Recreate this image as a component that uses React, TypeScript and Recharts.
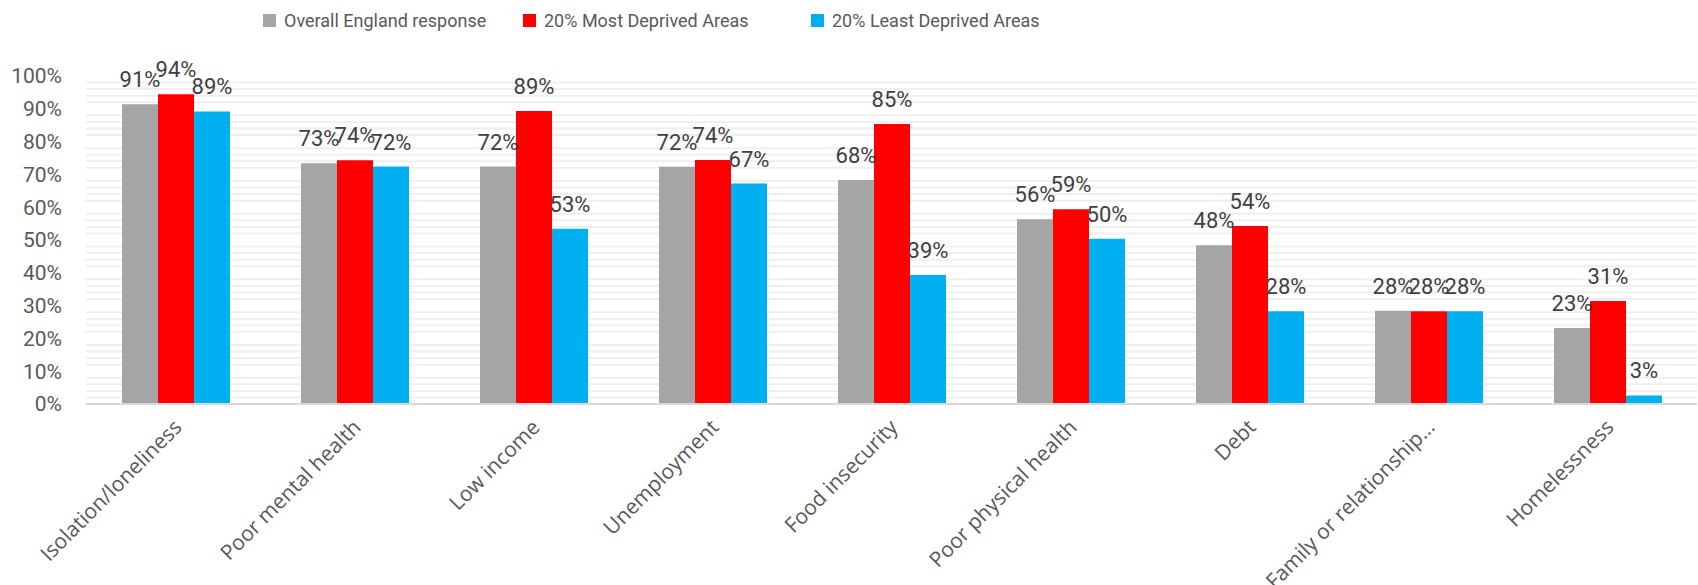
import { BarChart, Bar, XAxis, YAxis, CartesianGrid, Legend, LabelList } from 'recharts';

const categories = [
  'Isolation/loneliness',
  'Poor mental health',
  'Low income',
  'Unemployment',
  'Food insecurity',
  'Poor physical health',
  'Debt',
  'Family or relationship…',
  'Homelessness',
];
const overallEngland = [91.4, 73.4, 72.4, 72.3, 68.3, 56.3, 48.4, 28.4, 23.2];
const mostDeprived = [94.4, 74.3, 89.3, 74.4, 85.4, 59.4, 54.3, 28.3, 31.4];
const leastDeprived = [89.2, 72.4, 53.4, 67.2, 39.3, 50.4, 28.3, 28.3, 2.6];
const yTicks = [0, 10, 20, 30, 40, 50, 60, 70, 80, 90, 100];

const seriesNames = ['Overall England response', '20% Most Deprived Areas', '20% Least Deprived Areas'];
const colors = ['#A5A5A5', '#FF0000', '#00B0F0'];

const data = categories.map((name, i) => ({
  name,
  overall: overallEngland[i],
  most: mostDeprived[i],
  least: leastDeprived[i],
}));

// minor gridlines every 2%, none on the major ticks
const minorGrid = yTicks.slice(0, -1).flatMap(t => [t + 2, t + 4, t + 6, t + 8]);

const legendWidths = [260, 288, 240];

const renderLegend = () => (
  <div style={{ display: 'flex', alignItems: 'center', height: 24 }}>
    {seriesNames.map((name, i) => (
      <div key={name} style={{ width: legendWidths[i], display: 'flex', alignItems: 'center' }}>
        <span style={{ width: 13, height: 13, background: colors[i], marginRight: 8, display: 'inline-block' }} />
        <span style={{ fontFamily: 'Roboto', fontSize: 18, color: '#595959', whiteSpace: 'nowrap' }}>{name}</span>
      </div>
    ))}
  </div>
);

const labelFmt = (v: unknown) => `${Math.round(Number(v))}%`;
const labelStyle = { fill: '#404040', fontSize: 22, fontFamily: 'Roboto' };

export default function App() {
  return (
    <div style={{ position: 'absolute', left: 0, top: 0, width: 1698, height: 585, background: '#fff' }}>
      <BarChart
        width={1698}
        height={585}
        data={data}
        margin={{ top: 52, right: 1, bottom: 1, left: 0 }}
        barGap={0}
        style={{ fontFamily: 'Roboto' }}
      >
        <CartesianGrid vertical={false} horizontalValues={minorGrid} stroke="#efefef" strokeWidth={2} />
        <XAxis
          dataKey="name"
          interval={0}
          height={180}
          angle={-45}
          textAnchor="end"
          tickLine={false}
          tickSize={0}
          tickMargin={14}
          dx={-3}
          axisLine={{ stroke: '#d9d9d9', strokeWidth: 2 }}
          tick={{ fill: '#595959', fontSize: 21, fontFamily: 'Open Sans' }}
        />
        <YAxis
          width={86}
          domain={[0, 100]}
          ticks={yTicks}
          interval={0}
          axisLine={false}
          tickLine={false}
          tickSize={0}
          tickMargin={24}
          tickFormatter={v => `${v}%`}
          tick={{ fill: '#595959', fontSize: 21, fontFamily: 'Roboto' }}
        />
        <Legend
          verticalAlign="top"
          content={renderLegend}
          wrapperStyle={{ top: 8, left: 263, width: 800 }}
        />
        <Bar dataKey="overall" name={seriesNames[0]} fill={colors[0]} barSize={36} isAnimationActive={false}>
          <LabelList dataKey="overall" position="top" offset={17} formatter={labelFmt} style={labelStyle} />
        </Bar>
        <Bar dataKey="most" name={seriesNames[1]} fill={colors[1]} barSize={36} isAnimationActive={false}>
          <LabelList dataKey="most" position="top" offset={17} formatter={labelFmt} style={labelStyle} />
        </Bar>
        <Bar dataKey="least" name={seriesNames[2]} fill={colors[2]} barSize={36} isAnimationActive={false}>
          <LabelList dataKey="least" position="top" offset={17} formatter={labelFmt} style={labelStyle} />
        </Bar>
      </BarChart>
    </div>
  );
}
